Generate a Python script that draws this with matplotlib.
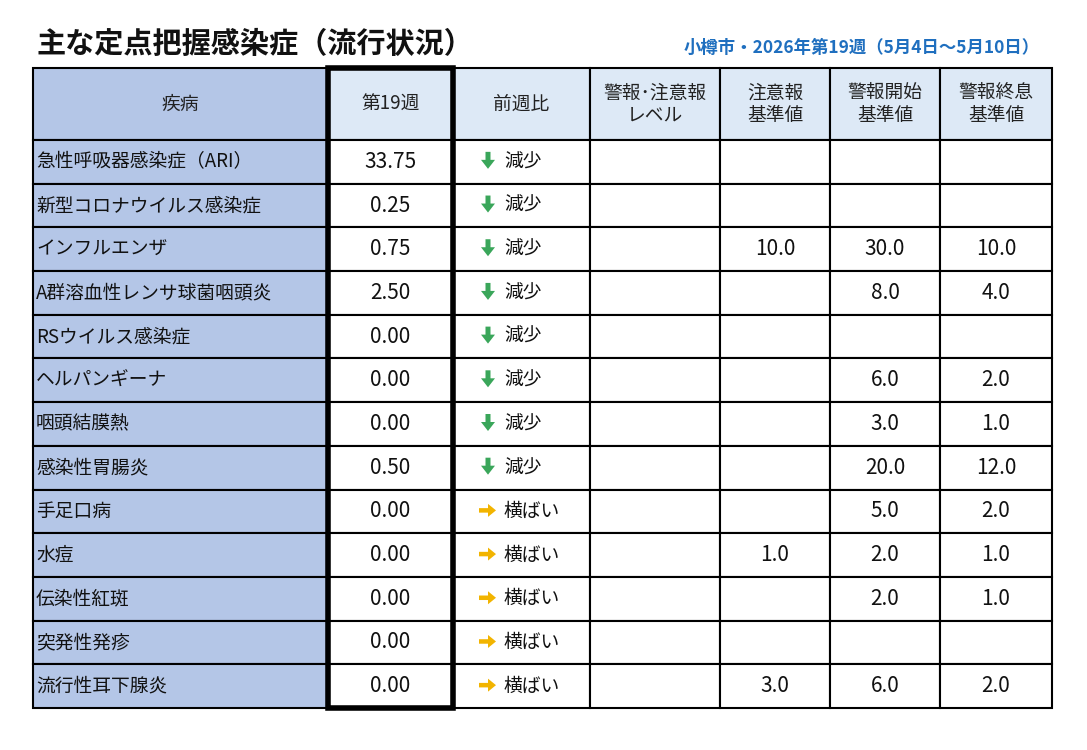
import matplotlib
matplotlib.use("Agg")
import matplotlib.pyplot as plt
from matplotlib.patches import Rectangle, FancyArrow

plt.rcParams['font.family'] = ['Noto Sans CJK JP', 'DejaVu Sans']

title = "主な定点把握感染症（流行状況）"
subtitle = "小樽市・2026年第19週（5月4日～5月10日）"
headers = ["疾病", "第19週", "前週比", "警報･注意報\nレベル", "注意報\n基準値", "警報開始\n基準値", "警報終息\n基準値"]
diseases = ["急性呼吸器感染症（ARI）", "新型コロナウイルス感染症", "インフルエンザ", "A群溶血性レンサ球菌咽頭炎",
            "RSウイルス感染症", "ヘルパンギーナ", "咽頭結膜熱", "感染性胃腸炎", "手足口病", "水痘",
            "伝染性紅斑", "突発性発疹", "流行性耳下腺炎"]
week19 = ["33.75", "0.25", "0.75", "2.50", "0.00", "0.00", "0.00", "0.50", "0.00", "0.00", "0.00", "0.00", "0.00"]
trend = ["減少"] * 8 + ["横ばい"] * 5
level = [""] * 13
caution = ["", "", "10.0", "", "", "", "", "", "", "1.0", "", "", "3.0"]
alarm_start = ["", "", "30.0", "8.0", "", "6.0", "3.0", "20.0", "5.0", "2.0", "2.0", "", "6.0"]
alarm_end = ["", "", "10.0", "4.0", "", "2.0", "1.0", "12.0", "2.0", "1.0", "1.0", "", "2.0"]

fig = plt.figure(figsize=(10.87, 7.5), dpi=100)
ax = fig.add_axes([0, 0, 1, 1])
ax.set_xlim(0, 1087); ax.set_ylim(750, 0); ax.axis('off')

xs = [33, 328, 453, 590, 720, 830, 940, 1052]
y0, yh = 68, 140
rh = (708 - 140) / 13
hdr_bg = "#dde9f6"; first_bg = "#b4c6e7"

for c in range(7):
    ax.add_patch(Rectangle((xs[c], y0), xs[c+1]-xs[c], yh-y0, fc=first_bg if c == 0 else hdr_bg, ec='black', lw=1.5))
    ax.text((xs[c]+xs[c+1])/2, (y0+yh)/2, headers[c], ha='center', va='center', fontsize=13.5,
            color='#222222', linespacing=1.1)

for r in range(13):
    top = yh + r*rh
    cy = top + rh/2
    for c in range(7):
        ax.add_patch(Rectangle((xs[c], top), xs[c+1]-xs[c], rh, fc=first_bg if c == 0 else 'white', ec='black', lw=1.5))
    ax.text(xs[0]+3, cy, diseases[r], ha='left', va='center', fontsize=13.5, color='#111111')
    ax.text((xs[1]+xs[2])/2, cy, week19[r], ha='center', va='center', fontsize=15, color='#111111')
    ax.text(xs[2]+51, cy, trend[r], ha='left', va='center', fontsize=13.5, color='#111111')
    if trend[r] == "減少":
        ax.add_patch(FancyArrow(488, cy-10, 0, 17, width=5, head_width=14, head_length=9,
                                length_includes_head=True, fc='#3aa65a', ec='none'))
    else:
        ax.add_patch(FancyArrow(479, cy-1, 17, 0, width=4.5, head_width=13, head_length=8,
                                length_includes_head=True, fc='#f2b400', ec='none'))
    for c, vals in zip(range(3, 7), [level, caution, alarm_start, alarm_end]):
        ax.text((xs[c]+xs[c+1])/2, cy, vals[r], ha='center', va='center', fontsize=15, color='#111111')

ax.add_patch(Rectangle((xs[1], y0), xs[2]-xs[1], 708-y0, fc='none', ec='black', lw=4, zorder=5))

ax.text(36, 44, title, ha='left', va='center', fontsize=21, fontweight='bold', color='#111111')
ax.text(1040, 48, subtitle, ha='right', va='center', fontsize=12.5, fontweight='bold', color='#1f6fbf')

fig.savefig("out.png", dpi=100)
